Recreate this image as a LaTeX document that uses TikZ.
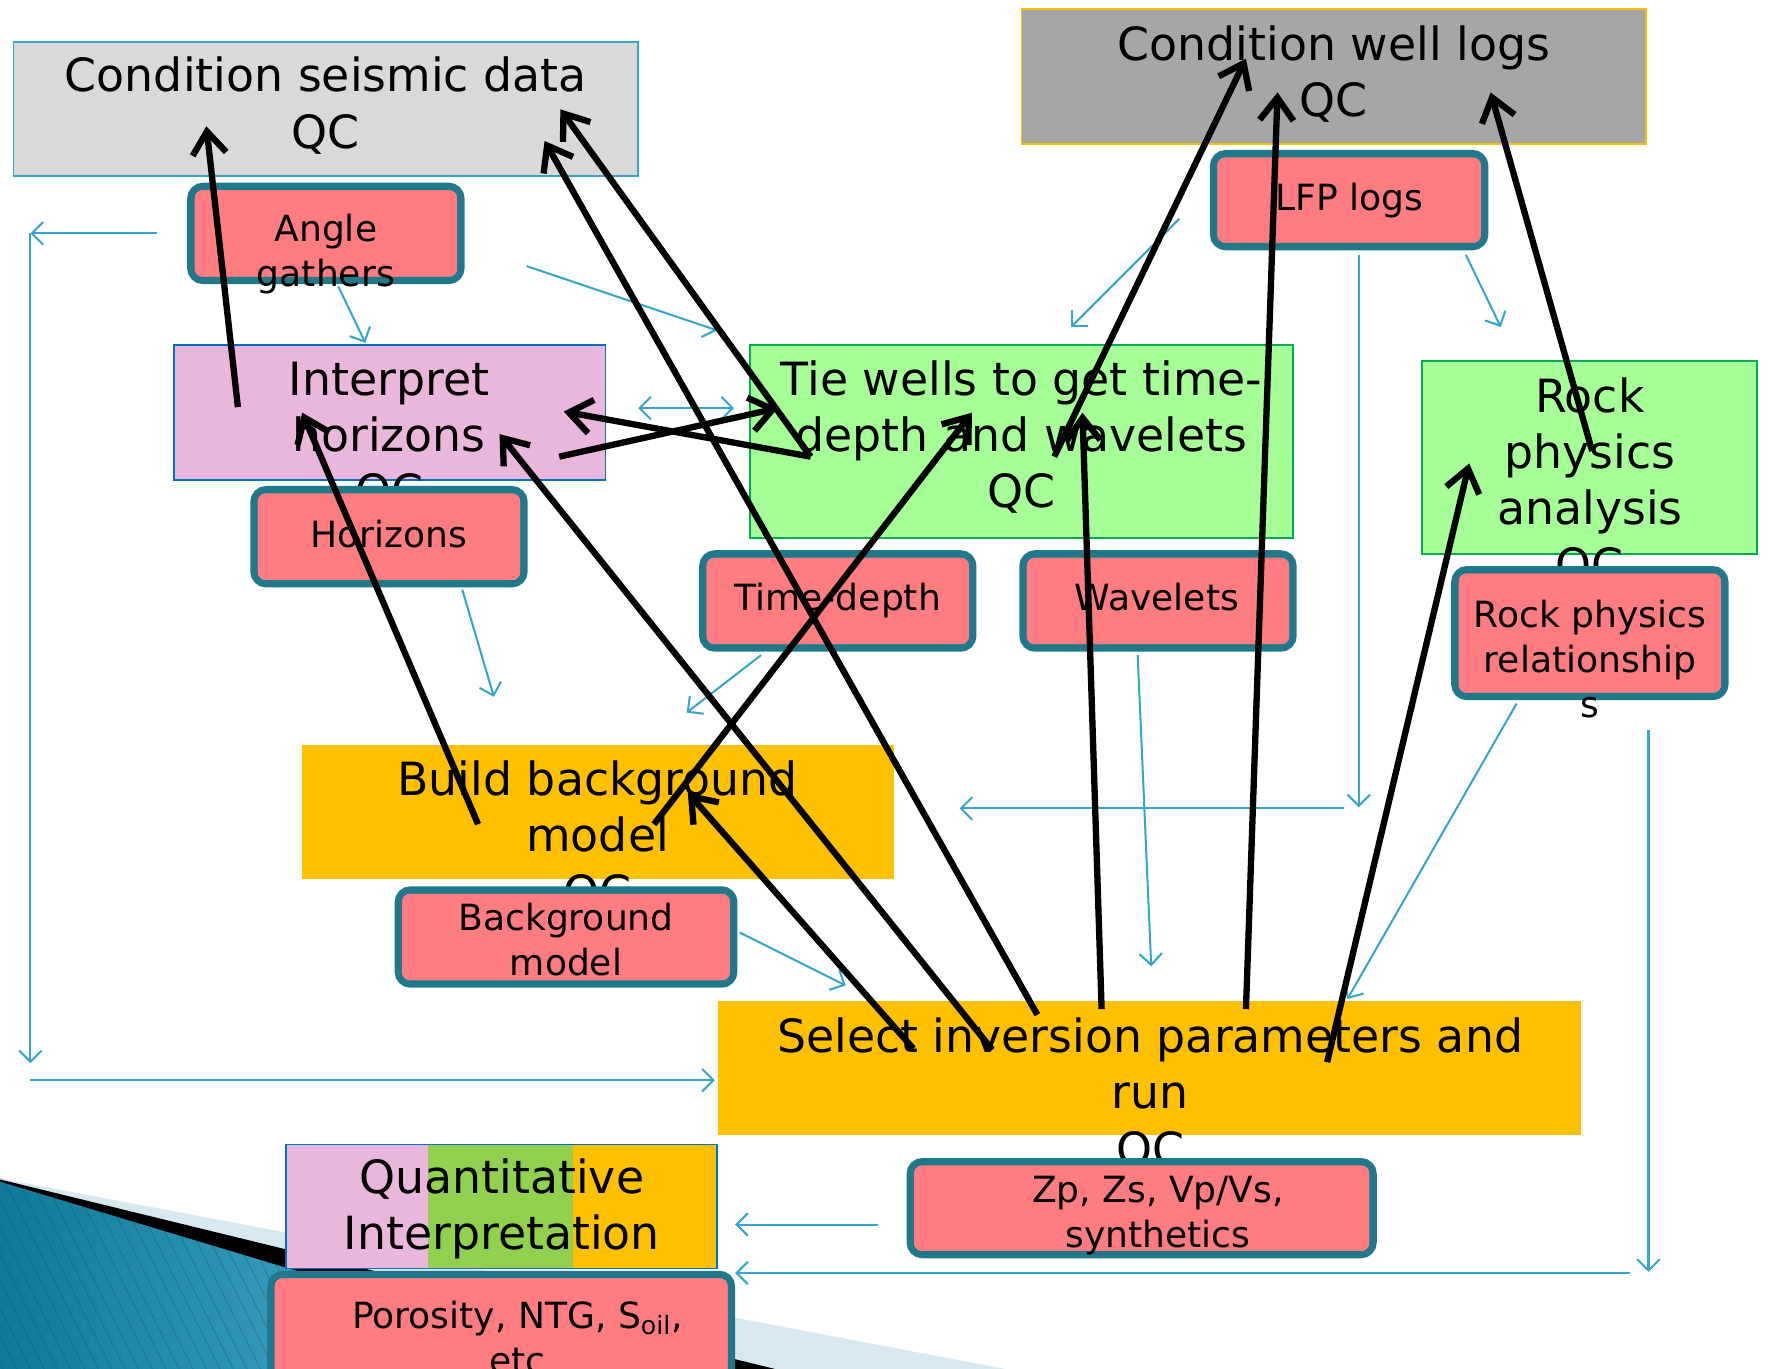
\documentclass[tikz,border=0pt]{standalone}
\usepackage{fontspec}
\setmainfont{DejaVu Sans}
\usetikzlibrary{arrows.meta,fit}
\tikzset{>={Straight Barb[length=5pt,width=10pt]}}
\definecolor{flowblue}{RGB}{52,166,200}
\definecolor{datateal}{RGB}{32,120,138}
\definecolor{salmon}{RGB}{255,124,128}
\definecolor{lightgrey}{RGB}{217,217,217}
\definecolor{midgrey}{RGB}{166,166,166}
\definecolor{gold}{RGB}{255,192,0}
\definecolor{mauve}{RGB}{233,183,220}
\definecolor{mint}{RGB}{166,255,150}
\definecolor{leaf}{RGB}{146,208,80}
\definecolor{kelly}{RGB}{0,176,80}
\definecolor{royal}{RGB}{0,112,192}
\definecolor{paleblue}{RGB}{215,233,240}
\definecolor{deepteal}{RGB}{16,120,152}
\definecolor{skyteal}{RGB}{96,194,224}
\tikzset{
  task/.style={inner sep=0pt, line width=0.8pt},
  datum/.style={draw=datateal, fill=salmon, line width=3.1pt, rounded corners=5.5pt, inner sep=-1.55pt},
  dataedge/.style={draw=datateal, line width=0.7pt, rounded corners=3pt},
  bigtext/.style={anchor=north, inner sep=0pt, align=center, font=\fontsize{20.3}{25}\selectfont},
  smalltext/.style={anchor=north, inner sep=0pt, align=center, font=\fontsize{16}{20}\selectfont},
  flow/.style={draw=flowblue, line width=0.9pt, ->},
  link/.style={draw=black, line width=2.8pt, -{Straight Barb[length=10pt,width=15pt]}}
}

\begin{document}
\begin{tikzpicture}[x=0.5pt, y=-0.5pt]
  \useasboundingbox (0,0) rectangle (1568,1214);

  % slide decoration, bottom left
  \fill[paleblue] (0,1045) -- (891,1214) -- (0,1214) -- cycle;
  \fill[black] (0,1046) -- (687,1214) -- (0,1214) -- cycle;
  \shade[left color=deepteal, right color=skyteal] (0,1048) -- (552,1214) -- (0,1214) -- cycle;
  \begin{scope}
    \clip (0,1048) -- (552,1214) -- (0,1214) -- cycle;
    \foreach \s in {-120,-108,...,560}
      \draw[deepteal!70!black, opacity=0.35, line width=0.4pt] (\s,1040) -- ++(90,180);
  \end{scope}

  % process boxes
  \node[task, fill=lightgrey, draw=flowblue, fit={(12,37) (566,156)}] (seis) {};
  \node[bigtext] (seistext) at (289,46) {\strut Condition seismic data\\QC};
  \node[task, fill=midgrey, draw=gold, fit={(906,8) (1460,128)}] (wlog) {};
  \node[bigtext] (wlogtext) at (1183,18) {\strut Condition well logs\\QC};
  \node[task, fill=mauve, draw=royal, fit={(154,306) (537,426)}] (interp) {};
  \node[bigtext] (interptext) at (345,315) {\strut Interpret\\horizons\\QC};
  \node[task, fill=mint, draw=kelly, fit={(665,306) (1147,477)}] (tie) {};
  \node[bigtext] (tietext) at (906,315) {\strut Tie wells to get time-\\depth and wavelets\\QC};
  \node[task, fill=mint, draw=kelly, fit={(1261,320) (1558,491)}] (rock) {};
  \node[bigtext] (rocktext) at (1410,330) {\strut Rock\\physics\\analysis\\QC};
  \node[task, fill=gold, fit={(268,661) (793,780)}] (build) {};
  \node[bigtext] (buildtext) at (530,670) {\strut Build background\\model\\QC};
  \node[task, fill=gold, fit={(637,888) (1402,1007)}] (select) {};
  \node[bigtext] (selecttext) at (1020,898) {\strut Select inversion parameters and\\run\\QC};
  \fill[mauve] (254,1015) rectangle (380,1125);
  \fill[leaf] (380,1015) rectangle (508,1125);
  \fill[gold] (508,1015) rectangle (636,1125);
  \node[task, draw=royal, fit={(254,1015) (636,1125)}] (qi) {};
  \node[bigtext] (qitext) at (445,1023) {\strut Quantitative\\Interpretation};

  % data boxes
  \node[datum, fit={(166,162) (412,252)}] (angle) {};
  \node[datum, fit={(1073,133) (1320,222)}] (lfp) {};
  \node[datum, fit={(222,431) (468,521)}] (horiz) {};
  \node[datum, fit={(620,488) (866,578)}] (timed) {};
  \node[datum, fit={(904,488) (1150,578)}] (wavel) {};
  \node[datum, fit={(1287,502) (1533,621)}] (rpr) {};
  \node[datum, fit={(350,786) (654,876)}] (bgm) {};
  \node[datum, fit={(804,1027) (1221,1116)}] (zp) {};
  \node[datum, fit={(237,1127) (652,1250)}] (poro) {};
  \foreach \n in {angle,lfp,horiz,timed,wavel,rpr,bgm,zp,poro}
    \draw[dataedge] ([shift={(2.9pt,-2.9pt)}]\n.north west) rectangle ([shift={(-2.9pt,2.9pt)}]\n.south east);

  \node[smalltext] (angletext) at (289,186) {\strut Angle\\gathers};
  \node[smalltext] (lfptext) at (1197,158) {\strut LFP logs};
  \node[smalltext] (horiztext) at (345,457) {\strut Horizons};
  \node[smalltext] (timedtext) at (743,513) {\strut Time-depth};
  \node[smalltext] (waveltext) at (1026,513) {\strut Wavelets};
  \node[smalltext] (rprtext) at (1410,528) {\strut Rock physics\\relationship\\s};
  \node[smalltext] (bgmtext) at (502,797) {\strut Background\\model};
  \node[smalltext] (zptext) at (1027,1038) {\strut Zp, Zs, Vp/Vs,\\synthetics};
  \node[smalltext] (porotext) at (459,1150) {\strut Porosity, NTG, S\textsubscript{oil},\\etc};

  % thin workflow connectors
  \coordinate (gathW) at (139,207);
  \coordinate (cornerNW) at (27,207);
  \coordinate (cornerSW) at (27,943);
  \coordinate (baseW) at (27,958);
  \coordinate (selectW) at (634,958);
  \coordinate (angleS) at (300,254);
  \coordinate (interpN) at (324,304);
  \coordinate (gathE) at (467,236);
  \coordinate (tieNW) at (636,293);
  \coordinate (interpE) at (566,362);
  \coordinate (tieW) at (651,362);
  \coordinate (wlogSW) at (1046,194);
  \coordinate (tieNE) at (950,290);
  \coordinate (lfpSE) at (1300,226);
  \coordinate (rockNW) at (1331,290);
  \coordinate (lfpS) at (1205,226);
  \coordinate (lfpDown) at (1205,716);
  \coordinate (midE) at (1192,717);
  \coordinate (buildE) at (851,717);
  \coordinate (horizS) at (410,523);
  \coordinate (buildN) at (438,618);
  \coordinate (timedS) at (675,581);
  \coordinate (buildNE) at (609,632);
  \coordinate (wavelS) at (1009,581);
  \coordinate (selectN) at (1021,857);
  \coordinate (bgmE) at (656,827);
  \coordinate (selectNW) at (750,874);
  \coordinate (rprS) at (1345,624);
  \coordinate (selectNE) at (1195,886);
  \coordinate (rimNE) at (1462,647);
  \coordinate (rimSE) at (1462,1128);
  \coordinate (rimS) at (1446,1129);
  \coordinate (poroE) at (652,1129);
  \coordinate (zpW) at (779,1086);
  \coordinate (qiE) at (652,1086);
  \foreach \from/\to in {gathW/cornerNW, cornerNW/cornerSW, baseW/selectW, angleS/interpN,
      gathE/tieNW, wlogSW/tieNE, lfpSE/rockNW, lfpS/lfpDown, midE/buildE, horizS/buildN,
      timedS/buildNE, wavelS/selectN, bgmE/selectNW, rprS/selectNE, rimNE/rimSE,
      rimS/poroE, zpW/qiE}
    \draw[flow] (\from) -- (\to);
  \draw[flow, <->] (interpE) -- (tieW);

  % thick arrows drawn over the slide
  \coordinate (interpA) at (211,361);
  \coordinate (seisA) at (183,112);
  \coordinate (buildB) at (424,731);
  \coordinate (interpB) at (268,366);
  \coordinate (interpC) at (496,405);
  \coordinate (tieC) at (690,362);
  \coordinate (tieD) at (719,405);
  \coordinate (interpD) at (500,365);
  \coordinate (seisE) at (497,97);
  \coordinate (selectF) at (920,900);
  \coordinate (seisF) at (483,125);
  \coordinate (selectG) at (810,930);
  \coordinate (buildG) at (610,703);
  \coordinate (buildH) at (580,731);
  \coordinate (tieH) at (862,366);
  \coordinate (tieI) at (935,405);
  \coordinate (wlogI) at (1105,52);
  \coordinate (selectJ) at (977,895);
  \coordinate (tieJ) at (960,366);
  \coordinate (selectK) at (1105,895);
  \coordinate (wlogK) at (1133,82);
  \coordinate (rockL) at (1412,400);
  \coordinate (wlogL) at (1322,82);
  \coordinate (selectM) at (1177,942);
  \coordinate (rockM) at (1303,411);
  \coordinate (selectO) at (880,931);
  \coordinate (interpO) at (443,385);
  \foreach \from/\to in {interpA/seisA, buildB/interpB, interpC/tieC, tieD/interpD,
      tieD/seisE, selectF/seisF, selectG/buildG, buildH/tieH, tieI/wlogI, selectJ/tieJ,
      selectK/wlogK, rockL/wlogL, selectM/rockM, selectO/interpO}
    \draw[link] (\from) -- (\to);
\end{tikzpicture}
\end{document}
